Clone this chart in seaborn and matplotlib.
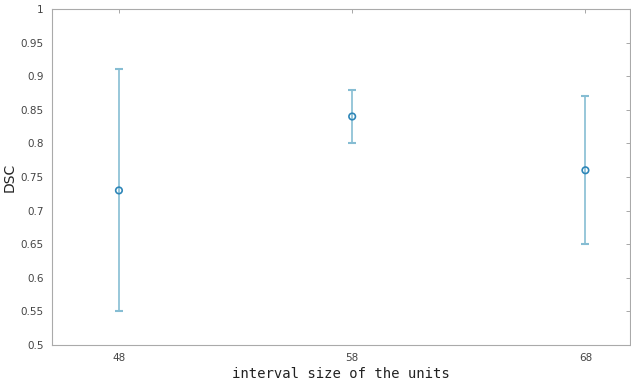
import matplotlib
matplotlib.use("Agg")
import matplotlib.pyplot as plt
import seaborn as sns
import pandas as pd

interval = [48, 58, 68]
dsc_mean = [0.73, 0.84, 0.76]
dsc_low = [0.55, 0.80, 0.65]
dsc_high = [0.91, 0.88, 0.87]
yticks = [0.5, 0.55, 0.6, 0.65, 0.7, 0.75, 0.8, 0.85, 0.9, 0.95, 1]
ytick_labels = ["0.5", "0.55", "0.6", "0.65", "0.7", "0.75", "0.8", "0.85", "0.9", "0.95", "1"]

sns.set_style("white")
plt.rcParams['font.family'] = ['DejaVu Sans']

df = pd.DataFrame({"interval": interval, "dsc": dsc_mean, "low": dsc_low, "high": dsc_high})

fig = plt.figure(figsize=(6.31, 3.84), dpi=100)
ax = fig.add_axes([0.0824, 0.1016, 0.9156, 0.875])

line_col = "#86bdd3"
mark_col = "#2e86b8"
yerr = [df["dsc"] - df["low"], df["high"] - df["dsc"]]
ax.errorbar(df["interval"], df["dsc"], yerr=yerr, fmt="none", ecolor=line_col,
            elinewidth=1.2, capsize=3, capthick=1.5, zorder=2)
sns.scatterplot(data=df, x="interval", y="dsc", ax=ax, marker="o", s=22,
                facecolor="none", edgecolor=mark_col, linewidth=1.2, zorder=3)

ax.set_xlim(45.13, 69.9)
ax.set_ylim(0.5, 1)
ax.set_xticks(interval)
ax.set_xticklabels([str(v) for v in interval])
ax.set_yticks(yticks)
ax.set_yticklabels(ytick_labels)
ax.tick_params(direction="in", length=3, width=0.6, colors="#999999",
               labelcolor="#444444", labelsize=7.5, top=True, right=True, pad=6)

for s in ax.spines.values():
    s.set_color("#aaaaaa")
    s.set_linewidth(0.8)

ax.set_xlabel("interval size of the units", family="DejaVu Sans Mono", fontsize=10, color="#222222", labelpad=3)
ax.set_ylabel("DSC", fontsize=10, color="#222222")
ax.yaxis.set_label_coords(-0.062, 0.5)

fig.savefig("out.png", dpi=100)
